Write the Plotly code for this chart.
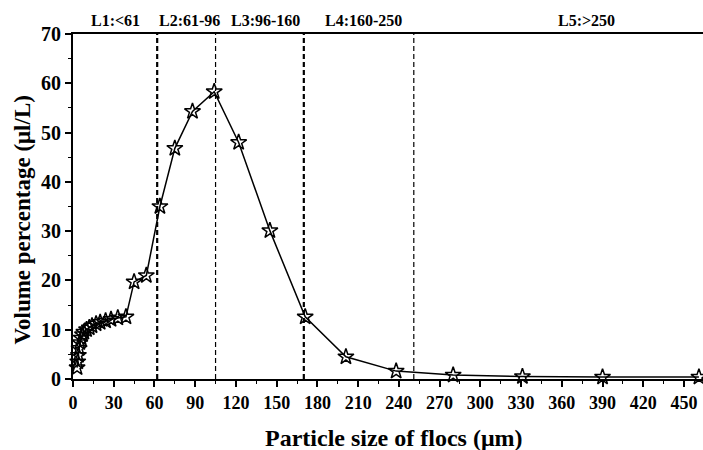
import plotly.graph_objects as go

# particle size of flocs (um) and volume percentage (ul/L)
size_um = [3, 3.5, 4, 4.5, 5, 6, 7, 8, 10, 12, 14, 17, 20, 24, 28, 33, 39,
           45, 54, 64, 75, 88, 104, 122, 145, 171, 201, 238, 280, 331, 390, 461]
volume = [2.3, 3.5, 4.8, 6.2, 7.4, 8.3, 9.0, 9.5, 10.0, 10.4, 10.8, 11.2, 11.5,
          11.8, 12.1, 12.4, 12.6, 19.7, 21.0, 35.0, 46.8, 54.3, 58.3, 48.0,
          30.1, 12.6, 4.5, 1.6, 0.8, 0.5, 0.4, 0.4]

# level boundaries drawn as dashed lines, and the level labels above the plot
boundaries = [62, 105, 170, 251]
boundary_bold = [True, False, True, False]
level_labels = ["L1:<61", "L2:61-96", "L3:96-160", "L4:160-250", "L5:>250"]
level_label_x = [31, 86, 142, 214, 378]

FONT = "Liberation Serif"

fig = go.Figure()

fig.add_trace(go.Scatter(
    x=size_um, y=volume,
    mode="lines+markers",
    line=dict(color="black", width=1.5),
    marker=dict(symbol="star-open", size=12, color="black",
                line=dict(width=1.5, color="black")),
    cliponaxis=False,
    showlegend=False
))

for b, bold in zip(boundaries, boundary_bold):
    fig.add_shape(type="line", xref="x", yref="paper", x0=b, x1=b, y0=0, y1=1,
                  line=dict(color="black", width=2.2 if bold else 1.2,
                            dash="5px,3px"))

for lab, lx in zip(level_labels, level_label_x):
    fig.add_annotation(x=lx, y=1.0, xref="x", yref="paper", text="<b>%s</b>" % lab,
                       showarrow=False, yanchor="bottom", yshift=3,
                       font=dict(family=FONT, size=16, color="black"))

fig.add_annotation(x=0.5, y=0, xref="paper", yref="paper",
                   text="<b>Particle size of flocs (μm)</b>", showarrow=False,
                   yanchor="middle", yshift=-59, xshift=5,
                   font=dict(family=FONT, size=24, color="black"))
fig.add_annotation(x=0, y=0.5, xref="paper", yref="paper",
                   text="<b>Volume percentage (μl/L)</b>", showarrow=False,
                   textangle=-90, xanchor="center", xshift=-51, yshift=-14,
                   font=dict(family=FONT, size=23, color="black"))

fig.update_xaxes(
    range=[0, 464], tickmode="array", tickvals=list(range(0, 451, 30)),
    ticks="outside", ticklen=6, tickwidth=1.5, tickcolor="black",
    minor=dict(tickmode="array", tickvals=list(range(15, 465, 30)),
               ticks="outside", ticklen=3, tickwidth=1.2, tickcolor="black"),
    showline=True, linecolor="black", linewidth=2, mirror=True,
    showgrid=False, zeroline=False, automargin=False,
    tickfont=dict(family=FONT, size=18, color="black", weight="bold")
)
fig.update_yaxes(
    range=[0, 70], tickvals=list(range(0, 71, 10)),
    ticks="outside", ticklen=6, tickwidth=1.5, tickcolor="black",
    minor=dict(tickvals=list(range(5, 70, 10)),
               ticks="outside", ticklen=3, tickwidth=1.2, tickcolor="black"),
    showline=True, linecolor="black", linewidth=2,
    showgrid=False, zeroline=False, automargin=False,
    tickfont=dict(family=FONT, size=20, color="black", weight="bold")
)

fig.update_layout(
    width=703, height=450,
    margin=dict(l=73, r=0, t=34, b=71),
    plot_bgcolor="white", paper_bgcolor="white"
)

fig.write_html("out.html", config={"displayModeBar": False},
               post_script="document.body.style.margin='0';"
                           "document.body.style.overflow='hidden';")
